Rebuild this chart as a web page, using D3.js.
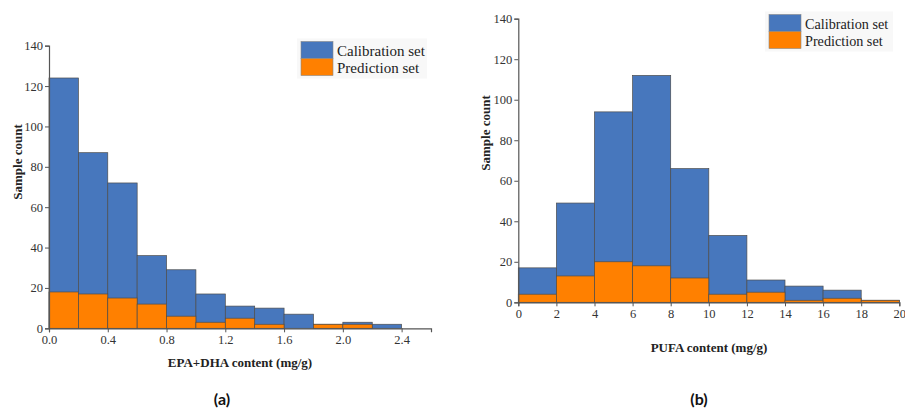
<!DOCTYPE html>
<html><head><meta charset="utf-8">
<script src="https://cdn.jsdelivr.net/npm/d3@7"></script>
<style>body{margin:0;background:#fff}svg{display:block}</style>
</head><body><svg id="c" width="905" height="410"></svg>
<script>
// Panel (a): EPA+DHA content bins (mg/g)
const binsA = [0,0.2,0.4,0.6,0.8,1.0,1.2,1.4,1.6,1.8,2.0,2.2,2.4];
const calA  = [124,87,72,36,29,17,11,10,7,2,3,2];
const predA = [18,17,15,12,6,3,5,2,0,2,2,0];
const ticksA = [0,0.4,0.8,1.2,1.6,2.0,2.4];
// Panel (b): PUFA content bins (mg/g)
const binsB = [0,2,4,6,8,10,12,14,16,18,20];
const calB  = [17,49,94,112,66,33,11,8,6,1];
const predB = [4,13,20,18,12,4,5,1,2,1];
const ticksB = [0,2,4,6,8,10,12,14,16,18,20];
const yTicks = [0,20,40,60,80,100,120,140];
const seriesNames = ["Calibration set","Prediction set"];

const BLUE = "#4777bd", ORANGE = "#ff8000", EDGE = "#4d4d4d", AXIS = "#555";
const svg = d3.select("#c");

function panel(o){
  const g = svg.append("g");
  const x = d3.scaleLinear().domain(o.xdom).range(o.xr);
  const y = d3.scaleLinear().domain([0,140]).range(o.yr);
  const barsData = (vals)=>vals.map((v,i)=>({x0:o.bins[i],x1:o.bins[i+1],v}));
  [[o.cal,BLUE],[o.pred,ORANGE]].forEach(([vals,col])=>{
    g.append("g").selectAll("rect").data(barsData(vals).filter(d=>d.v>0)).join("rect")
      .attr("x",d=>x(d.x0)).attr("width",d=>x(d.x1)-x(d.x0))
      .attr("y",d=>y(d.v)).attr("height",d=>y(0)-y(d.v))
      .attr("fill",col).attr("stroke",EDGE).attr("stroke-width",0.7);
  });
  const ya = g.append("g").attr("transform",`translate(${o.xr[0]},0)`)
    .call(d3.axisLeft(y).tickValues(yTicks).tickSize(4).tickPadding(2));
  const xa = g.append("g").attr("transform",`translate(0,${o.yr[0]})`)
    .call(d3.axisBottom(x).tickValues(o.ticks).tickFormat(o.fmt).tickSize(4).tickPadding(3));
  [ya,xa].forEach(a=>{
    a.attr("font-family","Liberation Serif, serif");
    a.select(".domain").attr("stroke",AXIS).attr("stroke-width",1.2);
    a.selectAll(".tick line").attr("stroke",AXIS);
    a.selectAll("text").attr("font-family","Liberation Serif, serif").attr("font-size",12.5).attr("fill","#333");
  });
  // axis titles
  g.append("text").attr("transform",`translate(${o.ytx},${o.yty}) rotate(-90)`)
    .attr("text-anchor","middle").attr("dominant-baseline","central")
    .attr("font-family","Liberation Serif, serif").attr("font-weight","bold").attr("font-size",13)
    .attr("fill","#222").text("Sample count");
  g.append("text").attr("x",o.xtx).attr("y",o.xty).attr("text-anchor","middle")
    .attr("dominant-baseline","central")
    .attr("font-family","Liberation Serif, serif").attr("font-weight","bold").attr("font-size",13)
    .attr("fill","#222").text(o.xtitle);
  // legend
  const lg = g.append("g").attr("transform",`translate(${o.lx},${o.ly})`);
  lg.append("rect").attr("x",-4).attr("y",-3).attr("width",o.lw).attr("height",o.sh*2+6).attr("fill","#f8f8f8");
  [BLUE,ORANGE].forEach((c,i)=>{
    lg.append("rect").attr("x",0).attr("y",i*o.sh).attr("width",o.sw).attr("height",o.sh)
      .attr("fill",c).attr("stroke","#888").attr("stroke-width",0.6);
    lg.append("text").attr("x",o.sw+4).attr("y",i*o.sh+o.sh/2+1).attr("dominant-baseline","central")
      .attr("font-family","Liberation Serif, serif").attr("font-size",o.lfs).attr("fill","#222")
      .text(seriesNames[i]);
  });
  // caption
  g.append("text").attr("x",o.cx).attr("y",398).attr("text-anchor","middle").attr("dominant-baseline","central")
    .attr("font-family","Lato, sans-serif").attr("font-weight","bold").attr("font-size",16).attr("fill","#111")
    .text(o.cap);
}

panel({bins:binsA,cal:calA,pred:predA,ticks:ticksA,fmt:d3.format(".1f"),
  xdom:[0,2.6],xr:[49,431],yr:[328.3,45.7],ytx:17,yty:162,xtx:240,xty:362,
  xtitle:"EPA+DHA content (mg/g)",lx:301,ly:41.5,sw:32,sh:17,lw:130,lfs:15,cx:222,cap:"(a)"});
panel({bins:binsB,cal:calB,pred:predB,ticks:ticksB,fmt:d3.format("d"),
  xdom:[0,20],xr:[518.3,899.3],yr:[302.3,18.7],ytx:485,yty:133,xtx:709,xty:347,
  xtitle:"PUFA content (mg/g)",lx:769,ly:14.5,sw:32,sh:17,lw:128,lfs:14.2,cx:699,cap:"(b)"});
</script></body></html>
